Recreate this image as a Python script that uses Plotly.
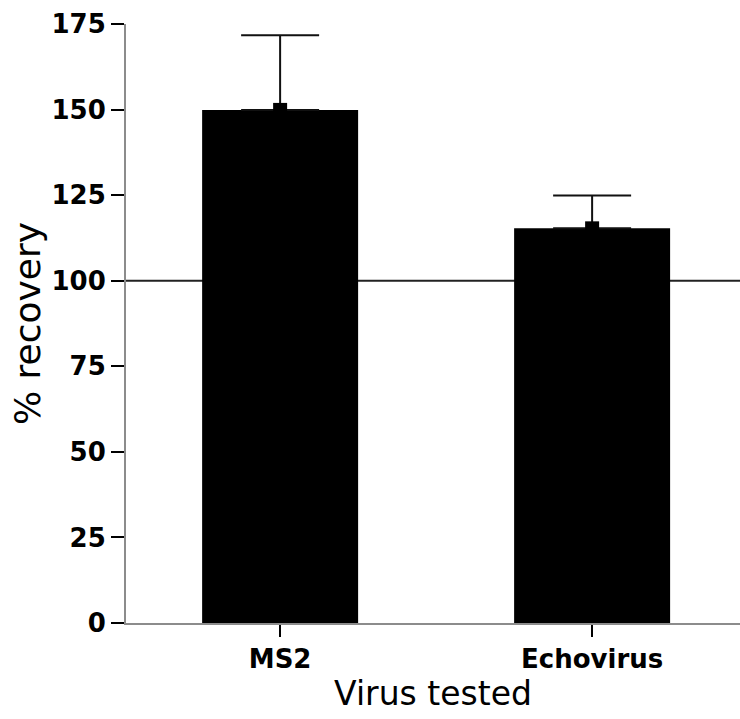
import plotly.graph_objects as go

# Recovery of spiked virus (mean % recovery with upper SD)
viruses = ["MS2", "Echovirus"]
recovery = [149.9, 115.3]
recovery_sd = [21.8, 9.6]
y_ticks = [0, 25, 50, 75, 100, 125, 150, 175]

tick_font = dict(family="DejaVu Sans", size=26, color="black", weight="bold")
x_title_font = dict(family="DejaVu Sans", size=33, color="black")
y_title_font = dict(family="DejaVu Sans", size=36, color="black")

fig = go.Figure()

fig.add_trace(go.Bar(
    x=viruses,
    y=recovery,
    width=0.5,
    marker=dict(color="black", line=dict(width=0)),
    error_y=dict(
        type="data",
        symmetric=False,
        array=recovery_sd,
        arrayminus=[0] * len(recovery_sd),
        color="#111111",
        thickness=2,
        width=39,
    ),
    showlegend=False,
))

# mean markers sitting on top of each bar
fig.add_trace(go.Scatter(
    x=viruses,
    y=recovery,
    mode="markers",
    marker=dict(symbol="square", size=14, color="black", line=dict(width=0)),
    showlegend=False,
    hoverinfo="skip",
))

# 100 % reference line
fig.add_shape(
    type="line", xref="paper", yref="y",
    x0=0, x1=1, y0=100, y1=100,
    line=dict(color="#222222", width=2),
    layer="below",
)

fig.update_layout(
    width=740,
    height=719,
    margin=dict(l=126, r=0, t=24, b=96),
    paper_bgcolor="white",
    plot_bgcolor="white",
    bargap=0.5,
)

fig.update_xaxes(
    range=[-0.494, 1.474],
    showline=True, linecolor="#8c8c8c", linewidth=2,
    ticks="outside", ticklen=12, tickwidth=2, tickcolor="black",
    tickfont=tick_font,
    showgrid=False, zeroline=False,
    title=dict(text="Virus tested", font=x_title_font, standoff=8),
    automargin=False,
)

fig.update_yaxes(
    range=[0, 175],
    tickvals=y_ticks,
    ticktext=[str(v) for v in y_ticks],
    showline=True, linecolor="#8c8c8c", linewidth=2,
    ticks="outside", ticklen=13, tickwidth=2, tickcolor="black",
    tickfont=tick_font,
    showgrid=False, zeroline=False,
    title=dict(text="% recovery", font=y_title_font, standoff=0),
    automargin=False,
)

fig.write_html("out.html")
